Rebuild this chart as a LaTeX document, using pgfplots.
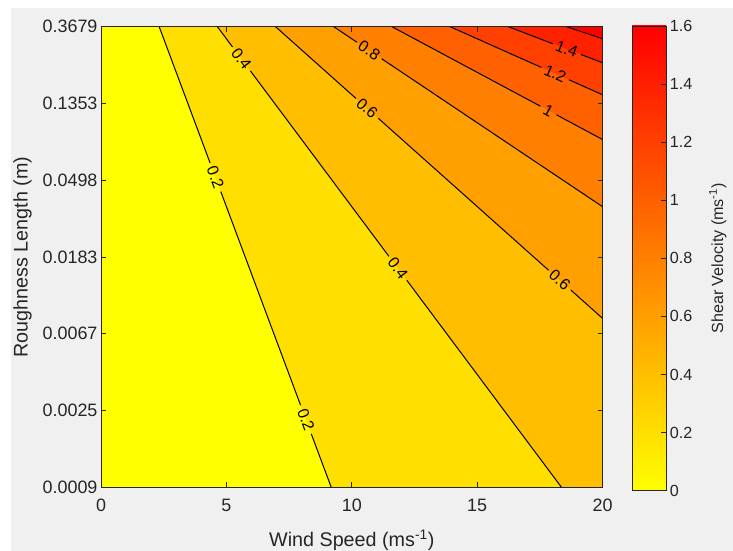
\documentclass[border=0pt]{standalone}
\usepackage{pgfplots}
\pgfplotsset{compat=1.18}
\usepackage{fontspec}
\setmainfont{Liberation Sans}
\definecolor{tc}{RGB}{38,38,38}
\definecolor{figbg}{RGB}{240,240,240}
\definecolor{c0}{RGB}{255,255,0}
\definecolor{c1}{RGB}{255,223,0}
\definecolor{c2}{RGB}{255,191,0}
\definecolor{c3}{RGB}{255,159,0}
\definecolor{c4}{RGB}{255,128,0}
\definecolor{c5}{RGB}{255,96,0}
\definecolor{c6}{RGB}{255,64,0}
\definecolor{c7}{RGB}{255,32,0}
\definecolor{c8}{RGB}{255,0,0}
\pgfkeys{/pgf/number format/assume math mode=true}
\tikzset{
  cl/.style={black, line width=1bp},
  lab/.style={font=\fontsize{16}{18}\selectfont, text=black, inner sep=0pt},
}
\begin{document}
\begin{tikzpicture}
\fill[white] (-101bp,-63.7bp) rectangle (632bp,487.3bp);
\fill[figbg] (-90bp,-63.7bp) rectangle (632bp,479.3bp);
\begin{axis}[
  at={(0,0)}, anchor=south west,
  scale only axis, width=501.6bp, height=460.6bp,
  xmin=0, xmax=20, ymin=-7, ymax=-1,
  xtick={0,5,10,15,20},
  ytick={-7,-6,-5,-4,-3,-2,-1},
  yticklabels={0.0009,0.0025,0.0067,0.0183,0.0498,0.1353,0.3679},
  tick pos=both, tick align=inside, major tick length=5bp,
  axis line style={tc, line width=0.9bp},
  tick style={tc, line width=0.9bp},
  ticklabel style={font=\fontsize{18}{20}\selectfont, text=tc},
  xticklabel style={yshift=-8bp},
  axis on top,
  every axis x label/.style={at={(axis description cs:0.5,0)}, anchor=base, yshift=-59.4bp, font=\fontsize{19.8}{22}\selectfont, text=tc},
  every axis y label/.style={at={(axis description cs:0,0.5)}, xshift=-78.5bp, rotate=90, anchor=center, font=\fontsize{19.8}{22}\selectfont, text=tc},
  xlabel={Wind Speed (ms\textsuperscript{-1})},
  ylabel={Roughness Length (m)},
]
% filled bands (stacked from low to high level)
\addplot[fill=c0, draw=none, forget plot] coordinates {(0,-7) (20,-7) (20,-1) (0,-1)};
\addplot[fill=c1, draw=none, forget plot] coordinates {(2.32,-1) (20,-1) (20,-7) (9.18,-7)};
\addplot[fill=c2, draw=none, forget plot] coordinates {(4.64,-1) (20,-1) (20,-7) (18.36,-7)};
\addplot[fill=c3, draw=none, forget plot] coordinates {(6.96,-1) (20,-1) (20,-4.80)};
\addplot[fill=c4, draw=none, forget plot] coordinates {(9.28,-1) (20,-1) (20,-3.345)};
\addplot[fill=c5, draw=none, forget plot] coordinates {(11.6,-1) (20,-1) (20,-2.47)};
\addplot[fill=c6, draw=none, forget plot] coordinates {(13.92,-1) (20,-1) (20,-1.887)};
\addplot[fill=c7, draw=none, forget plot] coordinates {(16.24,-1) (20,-1) (20,-1.47)};
\addplot[fill=c8, draw=none, forget plot] coordinates {(18.56,-1) (20,-1) (20,-1.157)};
% contour lines with gaps for labels
\addplot[cl, forget plot] coordinates {(2.32,-1) (4.351,-2.776)};
\addplot[cl, forget plot] coordinates {(4.776,-3.148) (7.959,-5.932)};
\addplot[cl, forget plot] coordinates {(8.384,-6.304) (9.18,-7)};
\addplot[cl, forget plot] coordinates {(4.64,-1) (5.244,-1.264)};
\addplot[cl, forget plot] coordinates {(5.957,-1.576) (11.479,-3.991)};
\addplot[cl, forget plot] coordinates {(12.193,-4.303) (18.36,-7)};
\addplot[cl, forget plot] coordinates {(6.96,-1) (10.168,-1.935)};
\addplot[cl, forget plot] coordinates {(11.055,-2.193) (17.848,-4.173)};
\addplot[cl, forget plot] coordinates {(18.735,-4.431) (20,-4.80)};
\addplot[cl, forget plot] coordinates {(9.28,-1) (10.202,-1.202)};
\addplot[cl, forget plot] coordinates {(11.188,-1.417) (20,-3.345)};
\addplot[cl, forget plot] coordinates {(11.6,-1) (17.522,-2.036)};
\addplot[cl, forget plot] coordinates {(18.16,-2.148) (20,-2.47)};
\addplot[cl, forget plot] coordinates {(13.92,-1) (17.562,-1.531)};
\addplot[cl, forget plot] coordinates {(18.656,-1.691) (20,-1.887)};
\addplot[cl, forget plot] coordinates {(16.24,-1) (18.007,-1.221)};
\addplot[cl, forget plot] coordinates {(19.135,-1.362) (20,-1.47)};
\addplot[cl, forget plot] coordinates {(18.56,-1) (20,-1.157)};
% contour labels
\addplot[draw=none, forget plot] coordinates {(2.32,-1) (9.18,-7)} node[pos=0.327, sloped, lab] {0.2} node[pos=0.853, sloped, lab] {0.2};
\addplot[draw=none, forget plot] coordinates {(4.64,-1) (18.36,-7)} node[pos=0.07, sloped, lab] {0.4} node[pos=0.5245, sloped, lab] {0.4};
\addplot[draw=none, forget plot] coordinates {(6.96,-1) (20,-4.80)} node[pos=0.28, sloped, lab] {0.6} node[pos=0.869, sloped, lab] {0.6};
\addplot[draw=none, forget plot] coordinates {(9.28,-1) (20,-3.345)} node[pos=0.132, sloped, lab] {0.8};
\addplot[draw=none, forget plot] coordinates {(11.6,-1) (20,-2.47)} node[pos=0.743, sloped, lab] {1};
\addplot[draw=none, forget plot] coordinates {(13.92,-1) (20,-1.887)} node[pos=0.689, sloped, lab] {1.2};
\addplot[draw=none, forget plot] coordinates {(16.24,-1) (20,-1.47)} node[pos=0.62, sloped, lab] {1.4};
\end{axis}
% colour bar
\begin{axis}[
  at={(531bp,-3.4bp)}, anchor=south west,
  scale only axis, width=34.4bp, height=464.7bp,
  xmin=0, xmax=1, ymin=0, ymax=1.6,
  xtick=\empty,
  ytick={0,0.2,0.4,0.6,0.8,1,1.2,1.4,1.6},
  yticklabels={0,0.2,0.4,0.6,0.8,1,1.2,1.4,1.6},
  yticklabel pos=right, ytick pos=right,
  tick align=inside, major tick length=5bp,
  axis on top,
  axis line style={tc, line width=0.9bp},
  tick style={tc, line width=0.9bp},
  yticklabel style={font=\fontsize{16.2}{18}\selectfont, text=tc},
  every axis y label/.style={at={(axis description cs:1,0.5)}, xshift=51.3bp, rotate=90, anchor=center, font=\fontsize{16.2}{18}\selectfont, text=tc},
  ylabel={Shear Velocity (ms\textsuperscript{-1})},
]
\addplot[draw=none, bottom color=c0, top color=c8] coordinates {(0,0) (1,0) (1,1.6) (0,1.6)};
\end{axis}
\pgfresetboundingbox
\path[use as bounding box] (-101bp,-63.7bp) rectangle (632bp,487.3bp);
\end{tikzpicture}
\end{document}
